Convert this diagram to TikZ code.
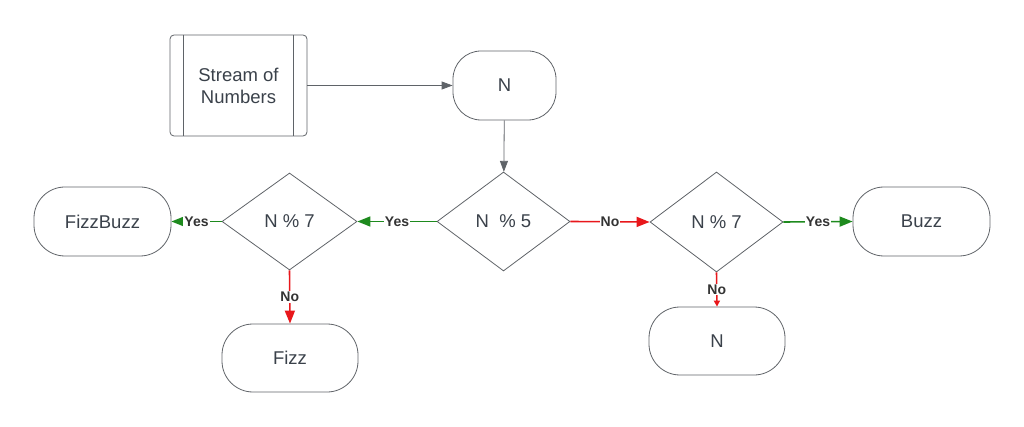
\documentclass[tikz,border=0pt]{standalone}
\usepackage{fontspec}
\setmainfont{Liberation Sans}
\usetikzlibrary{shapes.geometric,arrows.meta,calc}

\definecolor{linegray}{HTML}{5F6368}
\definecolor{textgray}{HTML}{3A414A}
\definecolor{yesgreen}{HTML}{1E8A1E}
\definecolor{nored}{HTML}{E8171B}

\tikzset{
  yes/.style={draw=yesgreen,line width=1.6pt,-{Triangle[length=13pt,width=10pt]}},
  no/.style={draw=nored,line width=1.6pt,-{Triangle[length=13pt,width=10pt]}},
  plain/.style={draw=linegray,line width=0.8pt,-{Triangle[length=11pt,width=8pt]}}
}

\begin{document}
\begin{tikzpicture}[x=1pt,y=-1pt]
        \useasboundingbox (0,0) rectangle (1024,427);

        \begin{scope}[every node/.style={draw=linegray,line width=0.8pt,text=textgray,align=center,inner sep=0pt,font=\fontsize{18.5}{22}\selectfont}]
          \node[rectangle,rounded corners=4pt,minimum width=137pt,minimum height=101pt] (stream) at (238.5,85.5) {Stream of\\Numbers};
          \node[rectangle,rounded corners=28pt,minimum width=103pt,minimum height=69pt] (n) at (504.5,85.5) {N};
          \node[diamond,minimum width=133pt,minimum height=99pt] (mod5) at (503.5,221.5) {N\ \ \% 5};
          \node[diamond,minimum width=135pt,minimum height=97pt] (mod7l) at (289.5,221.5) {N \% 7};
          \node[diamond,minimum width=133pt,minimum height=100pt] (mod7r) at (716.5,222) {N \% 7};
          \node[rectangle,rounded corners=31pt,minimum width=137pt,minimum height=69pt] (fizzbuzz) at (102.5,221.5) {FizzBuzz};
          \node[rectangle,rounded corners=31pt,minimum width=137pt,minimum height=69pt] (buzz) at (921.5,221.5) {Buzz};
          \node[rectangle,rounded corners=31pt,minimum width=136pt,minimum height=68pt] (fizz) at (290,358) {Fizz};
          \node[rectangle,rounded corners=31pt,minimum width=136pt,minimum height=68pt] (nout) at (717,341) {N};
        \end{scope}

        % bars of the process box
        \draw[linegray,line width=0.8pt] ($(stream.north west)+(14,0)$) -- ($(stream.south west)+(14,0)$);
        \draw[linegray,line width=0.8pt] ($(stream.north east)+(-14,0)$) -- ($(stream.south east)+(-14,0)$);

        \path (stream) edge[plain] (n);
        \path (n) edge[plain] (mod5);

        \begin{scope}[every node/.style={fill=white,inner sep=1pt,text=black!80,font=\bfseries\fontsize{14}{16}\selectfont}]
          \path (mod5.west)  edge[yes] node {Yes} (mod7l.east);
          \path (mod5.east)  edge[no]  node {No}  (mod7r.west);
          \path (mod7l.west) edge[yes] node {Yes} (fizzbuzz.east);
          \path (mod7l.south) edge[no] node {No}  (fizz.north);
          \path (mod7r.east) edge[yes] node {Yes} (buzz.west);
          \path (mod7r.south) edge[no,-{Triangle[length=6pt,width=6pt]}] node {No} (nout.north);
        \end{scope}

\end{tikzpicture}
\end{document}
